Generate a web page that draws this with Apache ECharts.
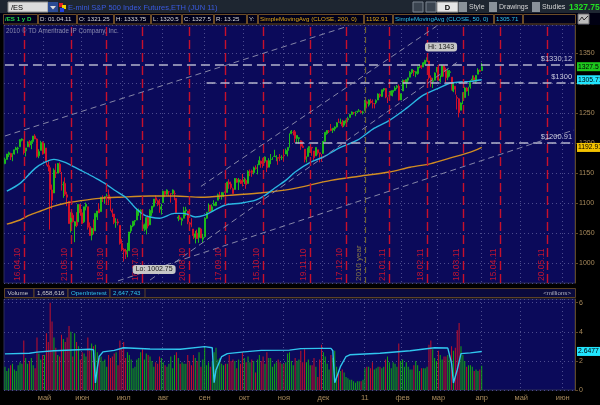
<!DOCTYPE html>
<html><head><meta charset="utf-8">
<script src="https://cdn.jsdelivr.net/npm/echarts@6/dist/echarts.min.js"></script>
<style>html,body{margin:0;padding:0;background:#000;}#c{width:600px;height:405px;}</style>
</head><body><div id="c"></div>
<script>
// ---- Daily rows: [open, high, low, close, volume(millions)] ----
const apr10=[[1166,1176,1165,1173,1.6],[1173,1182,1173,1182,1.3],[1181,1186,1177,1184,1.5],[1183,1184,1172,1177,1.7],[1176,1183,1170,1181,1.8],[1182,1189,1181,1189,1.4],[1189,1194,1189,1192,1.3],[1191,1194,1183,1192,1.7],[1194,1206,1194,1206,1.9],[1205,1208,1203,1207,1.8],[1206,1206,1181,1187,3.4],[1187,1192,1178,1192,2.2],[1194,1203,1194,1202,1.8],[1202,1205,1193,1200,2.0],[1197,1205,1190,1203,2.2],[1203,1212,1200,1212,1.7],[1212,1215,1207,1207,1.5],[1207,1208,1176,1178,3.6],[1179,1190,1175,1186,2.5],[1188,1204,1188,1201,2.1],[1201,1203,1181,1182,2.4]];
const may10=[[1183,1200,1183,1197,2.4],[1192,1192,1163,1169,3.9],[1164,1170,1153,1161,3.3],[1159,1163,1056,1123,6.0],[1122,1131,1090,1105,4.7],[1117,1158,1117,1155,3.6],[1151,1166,1142,1150,2.9],[1150,1167,1150,1166,2.4],[1165,1168,1151,1152,2.3],[1152,1152,1121,1131,3.8],[1131,1136,1109,1131,3.5],[1133,1143,1112,1115,3.3],[1114,1119,1095,1110,3.6],[1103,1103,1066,1066,4.4],[1062,1085,1051,1082,4.0],[1080,1084,1068,1069,2.3],[1062,1070,1035,1069,3.9],[1070,1085,1060,1063,3.3],[1069,1098,1069,1098,3.0],[1098,1098,1079,1084,2.1]];
const jun10=[[1084,1090,1065,1066,2.6],[1069,1094,1067,1094,2.5],[1094,1101,1088,1098,2.3],[1094,1094,1056,1060,3.6],[1061,1068,1046,1046,2.7],[1047,1059,1038,1058,3.2],[1059,1073,1048,1052,3.0],[1054,1083,1054,1083,3.1],[1077,1087,1072,1087,2.6],[1090,1100,1084,1084,2.2],[1086,1110,1086,1110,2.3],[1109,1113,1102,1109,2.0],[1110,1112,1100,1111,2.1],[1112,1116,1108,1112,1.6],[1114,1123,1097,1106,2.4],[1106,1111,1087,1088,2.2],[1088,1091,1077,1085,2.3],[1082,1082,1065,1068,2.5],[1068,1075,1059,1068,2.6],[1069,1074,1063,1067,1.7],[1063,1063,1031,1033,3.4],[1033,1040,1020,1023,2.9]];
const jul10=[[1023,1025,1002.75,1020,3.3],[1020,1024,1007,1015,2.2],[1020,1034,1010,1021,2.6],[1021,1052,1020,1052,2.4],[1054,1064,1050,1062,2.1],[1062,1070,1060,1070,1.5],[1070,1072,1063,1071,1.6],[1072,1091,1072,1087,2.1],[1087,1091,1079,1088,2.2],[1086,1090,1072,1088,2.6],[1085,1085,1055,1057,2.8],[1058,1066,1053,1064,2.1],[1056,1077,1048,1076,2.5],[1078,1080,1058,1062,2.4],[1064,1090,1064,1088,2.3],[1084,1095,1079,1095,2.0],[1095,1107,1093,1107,1.6],[1109,1113,1100,1105,1.9],[1104,1106,1095,1098,1.8],[1100,1107,1084,1094,2.3],[1090,1099,1081,1094,2.2]];
const aug10=[[1101,1121,1101,1120,1.9],[1120,1120,1110,1115,1.7],[1115,1123,1113,1122,1.6],[1119,1120,1112,1119,1.8],[1116,1116,1101,1116,2.3],[1116,1123,1114,1122,1.5],[1116,1121,1105,1116,2.4],[1108,1108,1082,1084,2.6],[1075,1080,1070,1077,2.2],[1076,1080,1073,1073,1.8],[1071,1076,1063,1074,1.9],[1075,1094,1075,1087,1.8],[1087,1094,1079,1089,1.8],[1087,1087,1065,1069,2.4],[1067,1069,1057,1065,2.0],[1067,1075,1060,1061,1.7],[1057,1057,1040,1046,2.4],[1043,1054,1033,1049,2.2],[1050,1056,1041,1041,2.0],[1043,1059,1034,1059,2.6],[1057,1059,1042,1042,1.6],[1040,1049,1034,1043,2.1]];
const sep10=[[1044,1076,1044,1075,2.9],[1075,1085,1074,1085,1.7],[1086,1100,1086,1099,1.9],[1097,1097,1086,1086,1.6],[1087,1098,1086,1094,2.0],[1096,1105,1096,1099,2.6],[1096,1102,1095,1102,2.9],[1105,1116,1105,1114,2.1],[1113,1119,1107,1113,2.2],[1112,1118,1106,1118,1.8],[1116,1118,1110,1117,1.7],[1119,1123,1112,1118,1.8],[1118,1136,1118,1135,1.8],[1135,1140,1124,1132,2.4],[1132,1136,1123,1126,2.0],[1124,1126,1116,1116,2.1],[1123,1142,1123,1141,2.0],[1140,1142,1134,1135,1.5],[1135,1142,1122,1139,2.1],[1138,1140,1132,1137,1.8],[1138,1149,1128,1133,2.6]];
const oct10=[[1136,1143,1132,1139,2.2],[1138,1141,1124,1131,1.9],[1133,1155,1133,1153,2.3],[1152,1156,1145,1152,1.9],[1154,1156,1144,1151,2.1],[1151,1161,1148,1159,2.0],[1159,1163,1156,1158,1.2],[1157,1165,1148,1163,2.1],[1164,1178,1164,1171,2.4],[1170,1171,1159,1166,2.0],[1170,1175,1159,1169,2.3],[1170,1178,1167,1177,1.8],[1171,1171,1152,1159,2.6],[1160,1175,1160,1171,2.2],[1173,1182,1165,1173,2.2],[1173,1177,1172,1176,1.6],[1178,1189,1177,1178,1.8],[1177,1180,1170,1178,1.9],[1176,1176,1164,1175,2.1],[1177,1182,1170,1176,1.9],[1176,1180,1172,1176,1.8]];
const nov10=[[1180,1190,1169,1179,1.8],[1182,1191,1182,1188,1.9],[1188,1193,1178,1193,2.5],[1193,1216,1193,1216,2.6],[1216,1222,1215,1220,2.0],[1218,1221,1213,1218,1.7],[1219,1222,1201,1208,2.2],[1208,1213,1200,1213,2.0],[1208,1210,1199,1209,2.1],[1204,1205,1189,1195,2.7],[1195,1203,1192,1193,1.9],[1190,1190,1168,1173,2.8],[1173,1178,1168,1174,1.9],[1178,1195,1178,1192,2.1],[1191,1195,1184,1194,1.7],[1193,1193,1179,1192,1.7],[1187,1187,1172,1176,2.2],[1179,1193,1179,1193,1.6],[1189,1189,1181,1184,0.9],[1184,1184,1168,1182,2.1],[1177,1182,1169,1176,3.1]];
const dec10=[[1183,1204,1183,1203,2.6],[1203,1219,1203,1218,2.3],[1216,1222,1214,1221,1.8],[1220,1222,1217,1220,1.4],[1224,1232,1220,1221,2.4],[1222,1225,1217,1225,2.2],[1224,1228,1220,1227,2.7],[1227,1235,1226,1234,1.6],[1235,1241,1234,1234,1.2],[1235,1241,1232,1235,1.3],[1235,1239,1226,1229,1.4],[1230,1237,1227,1237,1.2],[1237,1239,1233,1237,0.9],[1239,1244,1235,1241,0.8],[1243,1249,1243,1248,0.7],[1248,1253,1248,1252,0.7],[1251,1252,1248,1251,0.6],[1249,1253,1245,1252,0.5],[1253,1254,1250,1253,0.6],[1253,1257,1253,1254,0.6],[1253,1255,1250,1251,0.6],[1251,1254,1248,1252,0.7]];
const jan11=[[1254,1272,1254,1268,1.5],[1269,1271,1258,1266,1.6],[1264,1273,1261,1272,1.6],[1272,1274,1266,1269,1.5],[1270,1273,1258,1268,1.9],[1266,1267,1258,1266,1.4],[1268,1273,1265,1271,1.5],[1272,1283,1272,1282,1.6],[1281,1283,1276,1279,1.6],[1278,1289,1277,1289,1.5],[1289,1292,1286,1291,1.6],[1291,1292,1275,1277,2.1],[1276,1277,1267,1276,2.3],[1279,1287,1278,1279,1.9],[1280,1288,1279,1287,1.5],[1285,1288,1278,1288,1.9],[1288,1295,1287,1292,1.8],[1293,1297,1290,1295,1.6],[1295,1298,1271,1272,3.2],[1272,1283,1272,1282,2.0]];
const feb11=[[1287,1306,1287,1305,2.1],[1303,1305,1300,1303,1.6],[1300,1306,1292,1306,1.9],[1305,1309,1299,1309,1.6],[1310,1320,1310,1318,1.4],[1318,1323,1315,1323,1.4],[1320,1322,1312,1319,1.7],[1316,1320,1310,1319,2.0],[1316,1328,1314,1327,1.7],[1327,1331,1325,1331,1.3],[1329,1330,1324,1326,1.5],[1327,1335,1327,1334,1.5],[1332,1339,1331,1338,1.5],[1339,1343,1336,1341,1.6],[1337,1337,1306,1309,3.1],[1309,1313,1294,1303,3.4],[1303,1309,1292,1304,2.8],[1305,1318,1305,1317,2.2],[1319,1327,1318,1325,2.0]];
const mar11=[[1327,1331,1304,1305,2.7],[1304,1313,1301,1307,2.4],[1311,1331,1311,1329,2.1],[1329,1331,1311,1320,2.3],[1321,1326,1302,1309,2.3],[1310,1324,1305,1321,2.4],[1318,1322,1311,1319,2.1],[1310,1310,1288,1289,3.0],[1287,1302,1285,1298,2.7],[1295,1295,1281,1290,2.9],[1276,1280,1256,1275,4.1],[1274,1275,1243,1251,4.6],[1255,1268,1255,1267,3.0],[1271,1285,1265,1273,2.4],[1276,1294,1276,1292,2.0],[1292,1293,1286,1287,1.6],[1287,1294,1279,1292,1.7],[1294,1305,1291,1303,1.7],[1305,1313,1304,1307,1.6],[1309,1313,1304,1304,1.3],[1303,1313,1299,1313,1.4],[1315,1325,1315,1322,1.3],[1321,1323,1319,1320,1.4]];
const apr11=[[1321.25,1333.75,1320.5,1327.5,1.658616]];

// ---- studies: [bar index, value] ----
const ma50Pts=[[1,1120],[8,1133],[16,1158],[21,1168],[26,1173],[32,1168],[37,1160],[42,1152],[48,1142],[53,1133],[58,1122],[64,1110],[69,1093],[74,1080],[77,1077],[82,1075],[90,1083],[95,1083],[101,1077],[106,1080],[111,1088],[117,1097],[125,1100],[133,1105],[138,1113],[143,1125],[149,1138],[154,1152],[162,1168],[169,1177],[178,1193],[187,1205],[196,1225],[204,1238],[213,1258],[222,1280],[231,1293],[236,1300],[242,1302],[247,1303],[253,1305.71]];
const ma200Pts=[[1,1065],[8,1072],[13,1080],[19,1087],[26,1095],[32,1100],[40,1104],[50,1108],[61,1110],[77,1112],[90,1112],[104,1110],[119,1113],[135,1117],[151,1123],[173,1138],[188,1145],[204,1152],[215,1160],[226,1166],[236,1175],[247,1185],[253,1192.91]];
const oiPts=[[0,2.48],[13,2.52],[17,2.6],[26,2.7],[45,2.8],[47,2.76],[48,0.48],[49,1.5],[50,2.3],[52,2.62],[58,2.72],[63,2.9],[77,2.82],[93,2.8],[106,2.98],[110,2.9],[111,0.5],[112,1.38],[115,2.3],[118,2.5],[127,2.62],[136,2.72],[151,2.74],[157,2.84],[167,2.86],[173,2.86],[174,2.7],[175,0.5],[178,1.6],[181,2.3],[183,2.42],[199,2.52],[215,2.7],[228,2.9],[235,2.88],[237,1.84],[238,0.48],[240,1.38],[242,2.5],[247,2.55],[253,2.6477]];

const expiries=[['2010-04-16','16.04.10'],['2010-05-21','21.05.10'],['2010-06-18','18.06.10'],['2010-07-16','16.07.10'],['2010-08-20','20.08.10'],['2010-09-17','17.09.10'],['2010-10-15','15.10.10'],['2010-11-19','19.11.10'],['2010-12-17','17.12.10'],['2011-01-21','21.01.11'],['2011-02-18','18.02.11'],['2011-03-18','18.03.11'],['2011-04-15','15.04.11'],['2011-05-20','20.05.11']];
const levels=[[0,1330.12,'$1330.12'],[107,1300,'$1300'],[154,1200.91,'$1200.91']];
const trends=[[[0,1212],[180,1393]],[[104,1128],[229,1395]],[[77,972],[240,1335]],[[60,970.5],[302,1222]]];
const monthNames=['янв','фев','мар','апр','май','июн','июл','авг','сен','окт','ноя','дек'];
const holidays=['2010-04-02','2010-05-31','2010-07-05','2010-09-06','2010-11-25','2010-12-24','2011-01-17','2011-02-21'];

// ---- build ----
const rows=[].concat(apr10,may10,jun10,jul10,aug10,sep10,oct10,nov10,dec10,jan11,feb11,mar11,apr11);
const N=303;
const dates=[];
(function(){let d=new Date(Date.UTC(2010,3,1));while(dates.length<N){const wd=d.getUTCDay();const s=d.toISOString().slice(0,10);if(wd!==0&&wd!==6&&!(holidays.indexOf(s)>=0))dates.push(s);d.setUTCDate(d.getUTCDate()+1);}})();
const monthStart=dates.map((s,i)=>i>0&&s.slice(0,7)!==dates[i-1].slice(0,7));
const UP='#1cb81c',DN='#d0102a';
const candleData=rows.map(r=>[r[0],r[3],r[2],r[1]]);
const volData=rows.map(r=>({value:r[4],itemStyle:{color:r[3]>=r[0]?'#14a814':'#c4102a'}}));
const FONT='Liberation Sans';
const GRIDC='#4c4c8e';

const expLines=expiries.map(e=>({xAxis:e[0],lineStyle:{color:'#c8102c',type:[9,4],width:1.4},label:{show:true,formatter:e[1],position:'insideStartTop',color:'#c01432',fontSize:8.5,fontFamily:FONT,distance:2}}));
expLines.push({xAxis:'2011-01-03',lineStyle:{color:'#6e6232',type:[6,4],width:1.2},label:{show:true,formatter:'2010 year',position:'insideStartTop',color:'#8a7a48',fontSize:8,fontFamily:FONT,distance:2}});
const lvlLines=levels.map(l=>[{coord:[l[0],l[1]],lineStyle:{color:'#b4b4cc',type:[9,5],width:1.5},label:{show:true,formatter:l[2],position:'insideEndTop',color:'#c8c8dc',fontSize:7.5,fontFamily:FONT,distance:2}},{coord:[N-1,l[1]]}]);
const trLines=trends.map(t=>[{coord:t[0],lineStyle:{color:'#8686a8',type:[6,4],width:1},label:{show:false}},{coord:t[1]}]);

const yMin=967,yMax=1397;
const chart=echarts.init(document.getElementById('c'),null,{renderer:'canvas'});
chart.setOption({
  backgroundColor:'#000',animation:false,
  textStyle:{fontFamily:FONT},
  grid:[{left:4,top:25,width:571,height:258,show:true,backgroundColor:'#0b0a5a',borderColor:'#2c2c58',borderWidth:1,outerBoundsMode:'none'},
        {left:4,top:299,width:571,height:91,show:true,backgroundColor:'#0b0a5a',borderColor:'#2c2c58',borderWidth:1,outerBoundsMode:'none'}],
  xAxis:[
    {type:'category',gridIndex:0,data:dates,axisLine:{show:false},axisTick:{show:false},axisLabel:{show:false},
     splitLine:{show:true,interval:(i)=>monthStart[i],lineStyle:{color:GRIDC,type:[1,3],width:1}}},
    {type:'category',gridIndex:1,data:dates,axisLine:{show:false},axisTick:{show:false},
     axisLabel:{show:true,interval:(i)=>monthStart[i],formatter:(v)=>{const m=+v.slice(5,7)-1;return m===0?v.slice(2,4):monthNames[m];},color:'#a88a5c',fontSize:7.5,margin:4,fontFamily:FONT},
     splitLine:{show:true,interval:(i)=>monthStart[i],lineStyle:{color:GRIDC,type:[1,3],width:1}}}
  ],
  yAxis:[
    {type:'value',gridIndex:0,position:'right',min:yMin,max:yMax,splitNumber:8,
     axisLine:{show:true,lineStyle:{color:'#5e4828'}},axisTick:{show:true,length:3,lineStyle:{color:'#5e4828'}},
     axisLabel:{color:'#a88a5c',fontSize:7,margin:4,showMinLabel:false,showMaxLabel:false,fontFamily:FONT,formatter:(v)=>String(v)},
     splitLine:{show:true,lineStyle:{color:GRIDC,type:[1,3],width:1}}},
    {type:'value',gridIndex:1,position:'right',min:0,max:6.25,interval:2,
     axisLine:{show:true,lineStyle:{color:'#5e4828'}},axisTick:{show:true,length:3,lineStyle:{color:'#5e4828'}},
     axisLabel:{color:'#a88a5c',fontSize:7,margin:4,showMaxLabel:false,fontFamily:FONT,formatter:(v)=>String(v)},
     splitLine:{show:true,lineStyle:{color:GRIDC,type:[1,3],width:1}}}
  ],
  series:[
    {type:'candlestick',xAxisIndex:0,yAxisIndex:0,data:candleData,barWidth:'75%',
     itemStyle:{color:UP,color0:DN,borderColor:UP,borderColor0:DN,borderWidth:1},
     markLine:{silent:true,symbol:['none','none'],animation:false,data:expLines},
     markPoint:{silent:true,symbol:'circle',symbolSize:0,animation:false,
       data:[{coord:['2011-02-18',1343],value:1343,label:{show:true,formatter:'Hi: 1343',position:'top',offset:[14,-1],backgroundColor:'#c6c6c6',color:'#1a1a1a',padding:[1,3],borderRadius:3,fontSize:7,fontFamily:FONT}},
             {coord:['2010-07-01',1002.75],value:1002.75,label:{show:true,formatter:'Lo: 1002.75',position:'right',offset:[4,8],backgroundColor:'#c6c6c6',color:'#1a1a1a',padding:[1,3],borderRadius:3,fontSize:7,fontFamily:FONT}}]}},
    {type:'line',xAxisIndex:0,yAxisIndex:0,data:ma200Pts,showSymbol:false,smooth:0.3,lineStyle:{color:'#d08c22',width:1.4},z:3,
     markLine:{silent:true,symbol:['none','none'],animation:false,data:lvlLines.concat(trLines)}},
    {type:'line',xAxisIndex:0,yAxisIndex:0,data:ma50Pts,showSymbol:false,smooth:0.3,lineStyle:{color:'#2ab6e2',width:1.4},z:3},
    {type:'bar',xAxisIndex:1,yAxisIndex:1,data:volData,barWidth:1},
    {type:'line',xAxisIndex:1,yAxisIndex:1,data:oiPts,showSymbol:false,lineStyle:{color:'#30c6ee',width:1.4},z:3}
  ]
});

// ---- chrome / texts ----
function T(x,y,s,fill,size,extra){return Object.assign({type:'text',x:x,y:y,z:100,silent:true,style:Object.assign({text:s,fill:fill,fontSize:size,fontFamily:FONT,align:'left',verticalAlign:'middle'},extra||{})});}
function R(x,y,w,h,fill,stroke,r){return {type:'rect',z:99,silent:true,shape:{x:x,y:y,width:w,height:h,r:r||0},style:{fill:fill,stroke:stroke||null,lineWidth:1}};}
const g=[];
// toolbar
g.push(R(0,0,600,13,'#1e2631'));
g.push(R(8,2,40,10,'#dcdcdc','#8a8a8a'));
g.push(T(11,7.5,'/ES','#000',7.5));
g.push(R(48,2,10,10,'#2c4c94'));
g.push({type:'polygon',z:100,silent:true,shape:{points:[[50,6],[56,6],[53,9.5]]},style:{fill:'#e0e0e0'}});
g.push(R(59,3,4,4,'#e02020'));g.push(R(62,5,4,4,'#f0d000'));g.push(R(60,8,4,4,'#2040e0'));
g.push(T(68,7.5,'E-mini S&P 500 Index Futures,ETH (JUN 11)','#3a5ae0',7.5));
g.push(R(413,2,10,10,'#3a4450','#7a8490'));g.push(R(426,2,10,10,'#3a4450','#7a8490'));
g.push(R(437,2,21,10,'#e6e6e6','#909090'));g.push(T(447.5,7.5,'D','#000',7.5,{align:'center',fontWeight:'bold'}));
g.push(R(459,2,8,10,'#8a929a'));g.push(T(469,7.5,'Style','#d4d4d4',7));
g.push(R(489,2,8,10,'#8a929a'));g.push(T(499,7.5,'Drawings','#d4d4d4',7));
g.push(R(532,2,8,10,'#8a929a'));g.push(T(542,7.5,'Studies','#d4d4d4',7));
g.push(T(569,7.5,'1327.75','#22e022',8.5,{fontWeight:'bold'}));
// info bar
g.push(R(0,13,600,12,'#000012'));
const cells=[[3,38,'/ES 1 y D','#22d048',true],[38,77,'D: 01.04.11','#d6d6d6'],[77,114,'O: 1321.25','#d6d6d6'],[114,151,'H: 1333.75','#d6d6d6'],[151,182,'L: 1320.5','#d6d6d6'],[182,214,'C: 1327.5','#d6d6d6'],[214,247,'R: 13.25','#d6d6d6'],[247,258,'Y:','#d6d6d6'],[258,364,'SimpleMovingAvg (CLOSE, 200, 0)','#e2a814'],[364,393,'1192.91','#e2a814'],[393,494,'SimpleMovingAvg (CLOSE, 50, 0)','#2ec4ec'],[494,523,'1305.71','#2ec4ec'],[523,576,'','#fff']];
cells.forEach(c=>{g.push(R(c[0]+0.5,14.5,c[1]-c[0]-1,9.5,'#00001a','#6c4c26'));if(c[2])g.push(T(c[0]+2,19.5,c[2],c[3],6.2,c[4]?{fontWeight:'bold'}:{}));});
g.push(R(578,14,11,10,'#bcbcbc','#707070'));
g.push({type:'polyline',z:101,silent:true,shape:{points:[[579,21],[582,17],[584,20],[588,16]]},style:{stroke:'#303030',lineWidth:1,fill:null}});
// copyright
g.push(T(6,31,'2010 © TD Ameritrade IP Company, Inc.','#8c8cae',6.3));
// volume header
g.push(R(4.5,288.5,571,9,'#0a0a3c','#5c4224'));
[[4.5,34,'Volume','#c8c8c8'],[34,68,'1,658,616','#c8c8c8'],[68,110,'OpenInterest','#2ec4ec'],[110,145,'2,647,743','#2ec4ec']].forEach(c=>{g.push(R(c[0],288.5,c[1]-c[0],9,'#0a0a3c','#5c4224'));g.push(T(c[0]+3,293.5,c[2],c[3],6.2));});
g.push(T(571,293.5,'<millions>','#b0b0c0',6.2,{align:'right'}));
// value badges on the right axes (positions from the library's scales)
function badge(yAxisIndex,val,text,fill){const y=chart.convertToPixel({yAxisIndex:yAxisIndex},val);g.push(R(577,y-4.5,23,9,fill));g.push(T(578,y,text,'#000',6.8));}
badge(0,1327.5,'1327.5','#1ec81e');
badge(0,1305.71,'1305.71','#22e6ff');
badge(0,1192.91,'1192.91','#f2c200');
badge(1,2.6477,'2.6477','#22e6ff');
chart.setOption({graphic:{elements:g}});
</script></body></html>
